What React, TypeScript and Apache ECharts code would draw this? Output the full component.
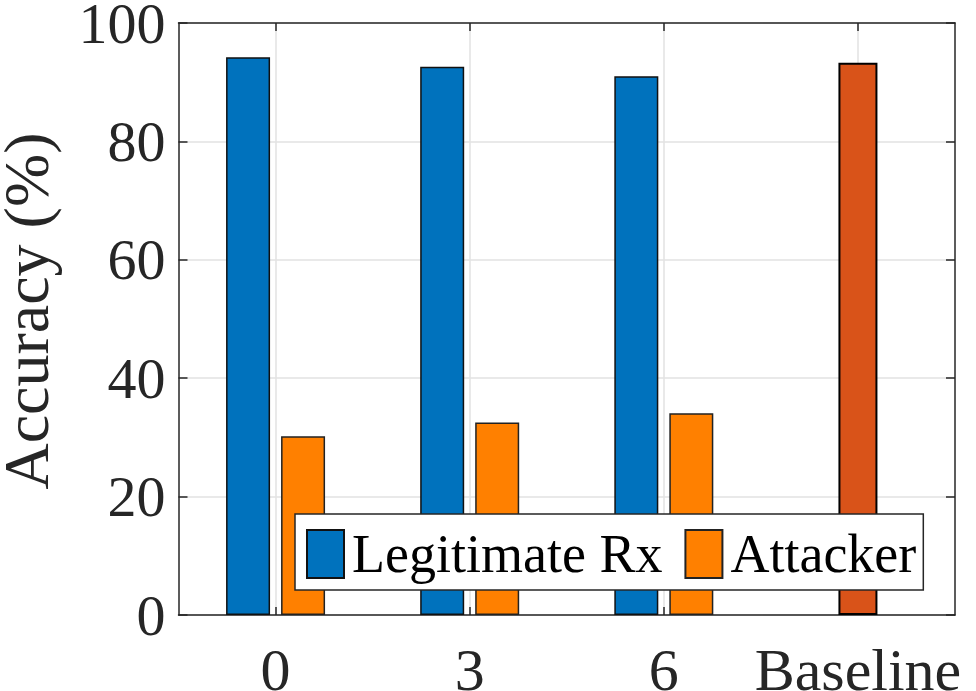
import React, { useEffect, useRef } from "react";
import * as echarts from "echarts";

const categories = ["0", "3", "6", "Baseline"];
const legitimateRx = [94.2, 92.6, 91.0, null];
const attacker = [30.2, 32.5, 34.1, null];
const baseline = [null, null, null, 93.3];
const yTicks = { min: 0, max: 100, interval: 20 };

const FONT = "Liberation Serif";
const AXIS = "#262626";
const GRID = "#e2e2e2";

export default function App() {
  const ref = useRef<HTMLDivElement>(null);
  useEffect(() => {
    if (!ref.current) return;
    const chart = echarts.init(ref.current, null, { renderer: "svg" });
    const yBase = {
      type: "value",
      min: yTicks.min,
      max: yTicks.max,
      interval: yTicks.interval,
      axisLine: { show: true, onZero: false, lineStyle: { color: AXIS, width: 1.5 } },
      axisTick: { show: true, inside: true, length: 9, lineStyle: { color: AXIS, width: 1.5 } },
    };
    chart.setOption({
      animation: false,
      backgroundColor: "#ffffff",
      grid: {
        left: 178.5,
        right: 21,
        top: 23,
        bottom: 76,
        containLabel: false,
        outerBoundsMode: "none",
      },
      graphic: [
        {
          type: "text",
          x: 26,
          y: 311,
          rotation: Math.PI / 2,
          style: {
            text: "Accuracy (%)",
            font: `64px "${FONT}"`,
            lineHeight: 50,
            fill: AXIS,
            align: "center",
            verticalAlign: "middle",
          },
        },
      ],
      legend: {
        data: ["Legitimate Rx", "Attacker"],
        left: 295,
        top: 514,
        orient: "horizontal",
        backgroundColor: "#ffffff",
        borderColor: AXIS,
        borderWidth: 1.5,
        borderRadius: 0,
        padding: [13, 7, 9, 11],
        itemWidth: 37,
        itemHeight: 48,
        itemGap: 22,
        icon: "rect",
        textStyle: { fontFamily: FONT, fontSize: 54, color: "#000", padding: [0, 0, 0, 3] },
      },
      xAxis: [
        {
          type: "category",
          data: categories,
          position: "bottom",
          axisLine: { show: true, onZero: false, lineStyle: { color: AXIS, width: 1.5 } },
          axisTick: { show: true, inside: true, alignWithLabel: true, length: 8, lineStyle: { color: AXIS, width: 1.5 } },
          axisLabel: {
            interval: 0,
            fontFamily: FONT,
            fontSize: 60,
            lineHeight: 40,
            color: AXIS,
            margin: 35,
          },
          splitLine: { show: true, alignWithLabel: true, lineStyle: { color: GRID, width: 1.5 } },
        },
        {
          type: "category",
          data: categories,
          position: "top",
          axisLine: { show: true, onZero: false, lineStyle: { color: AXIS, width: 1.5 } },
          axisTick: { show: true, inside: true, alignWithLabel: true, length: 8, lineStyle: { color: AXIS, width: 1.5 } },
          axisLabel: { show: false },
          splitLine: { show: false },
        },
      ],
      yAxis: [
        {
          ...yBase,
          position: "left",
          axisLabel: { fontFamily: FONT, fontSize: 58, lineHeight: 40, color: AXIS, margin: 13 },
          splitLine: { show: true, lineStyle: { color: GRID, width: 1.5 } },
        },
        {
          ...yBase,
          position: "right",
          axisLabel: { show: false },
          splitLine: { show: false },
        },
      ],
      series: [
        {
          name: "Legitimate Rx",
          type: "bar",
          data: legitimateRx,
          xAxisIndex: 0,
          yAxisIndex: 0,
          barWidth: 44,
          barGap: "25%",
          itemStyle: { color: "#0072BD", borderColor: "#111", borderWidth: 1.5 },
        },
        {
          name: "Attacker",
          type: "bar",
          data: attacker,
          xAxisIndex: 0,
          yAxisIndex: 0,
          barWidth: 44,
          barGap: "25%",
          itemStyle: { color: "#FF8000", borderColor: "#222", borderWidth: 1.5 },
        },
        {
          name: "Baseline",
          type: "bar",
          data: baseline,
          xAxisIndex: 1,
          yAxisIndex: 0,
          barWidth: 39,
          itemStyle: { color: "#D95319", borderColor: "#000", borderWidth: 2 },
        },
      ],
    });
    return () => chart.dispose();
  }, []);
  return (
    <div
      ref={ref}
      style={{ position: "fixed", left: 0, top: 0, width: 976, height: 691, background: "#fff" }}
    />
  );
}
